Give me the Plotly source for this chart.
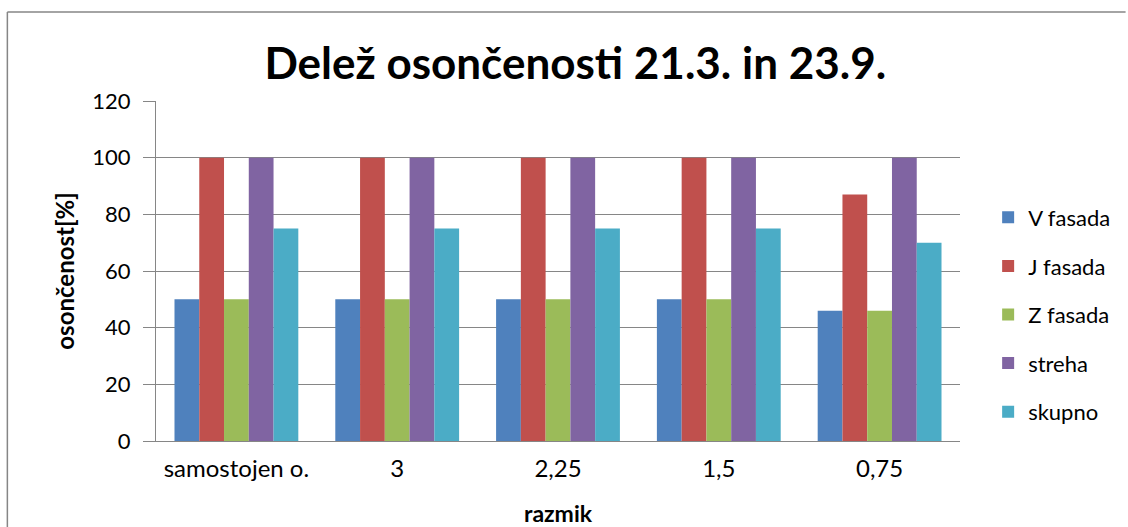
import plotly.graph_objects as go

# razmik categories and share of sunlit time per surface
categories = ["samostojen o.", "3", "2,25", "1,5", "0,75"]
v_fasada = [50, 50, 50, 50, 46]
j_fasada = [100, 100, 100, 100, 87]
z_fasada = [50, 50, 50, 50, 46]
streha = [100, 100, 100, 100, 100]
skupno = [75, 75, 75, 75, 70]

series = [
    ("V fasada", v_fasada, "#4F81BD"),
    ("J fasada", j_fasada, "#C0504D"),
    ("Z fasada", z_fasada, "#9BBB59"),
    ("streha", streha, "#8064A2"),
    ("skupno", skupno, "#4BACC6"),
]

FONT = "Lato"
GRID = "#868686"

fig = go.Figure()
for name, vals, col in series:
    fig.add_trace(go.Bar(
        x=categories, y=vals, name=name,
        marker=dict(color=col, line=dict(width=0)),
        legendgroup=name,
    ))

fig.update_layout(
    width=1128, height=527,
    margin=dict(l=156, r=166, t=101, b=86),
    paper_bgcolor="white", plot_bgcolor="white",
    font=dict(family=FONT, size=22, color="black"),
    barmode="group", bargap=0.23, bargroupgap=0,
    title=dict(text="<b>Delež osončenosti 21.3. in 23.9.</b>",
               x=0.51, xref="container", xanchor="center",
               y=0.88, yref="container", yanchor="middle",
               font=dict(size=44, family=FONT)),
    legend=dict(x=1.035, xanchor="left", y=0.372, yanchor="middle",
                font=dict(size=22), tracegroupgap=17,
                bgcolor="rgba(0,0,0,0)"),
    showlegend=True,
)

fig.update_yaxes(
    range=[0, 120], dtick=20, showgrid=True, gridcolor=GRID, gridwidth=1,
    showline=True, linecolor=GRID, linewidth=1,
    ticks="outside", ticklen=12, tickcolor=GRID, ticklabelstandoff=8,
    tickfont=dict(size=22), automargin=False,
    zeroline=False,
    title=dict(text="<b>osončenost[%]</b>", standoff=10, font=dict(size=24)),
)
fig.update_xaxes(
    showline=True, linecolor=GRID, linewidth=1,
    ticks="outside", ticklen=6, tickcolor="rgba(0,0,0,0)",
    tickfont=dict(size=24), automargin=False,
    title=dict(text="<b>razmik</b>", standoff=28, font=dict(size=23)),
)

# chart area border: only the top and left edges are inside the picture
left = (7 - 156) / 806
top = 1 + (101 - 12) / 340
fig.add_shape(type="line", xref="paper", yref="paper",
              x0=left, x1=(1128 - 156) / 806, y0=top, y1=top,
              line=dict(color=GRID, width=1.5), layer="below")
fig.add_shape(type="line", xref="paper", yref="paper",
              x0=left, x1=left, y0=-(527 - 441) / 340, y1=top,
              line=dict(color=GRID, width=1.5), layer="below")

fig.write_html("out.html", config={"displayModeBar": False},
               post_script="document.body.style.margin='0';"
                           "document.body.style.overflow='hidden';")
